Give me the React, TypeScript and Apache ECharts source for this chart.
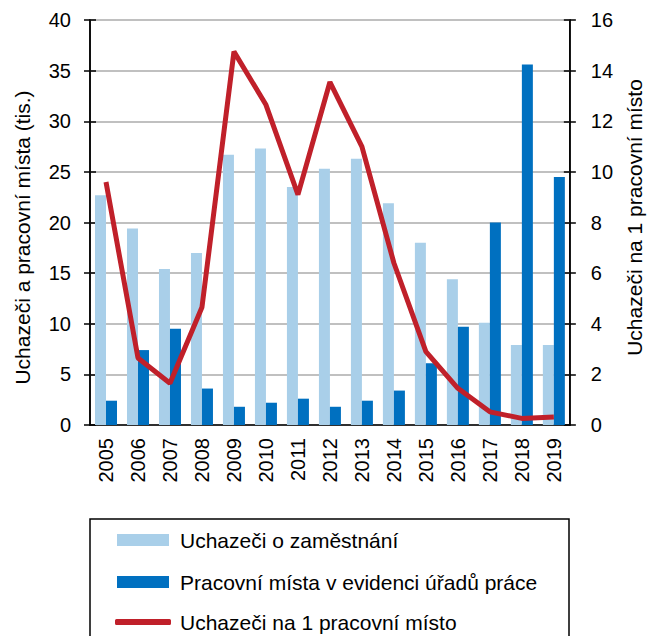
import React, { useEffect, useRef } from "react";
import * as echarts from "echarts";

const years = ["2005","2006","2007","2008","2009","2010","2011","2012","2013","2014","2015","2016","2017","2018","2019"];
const uchazeci = [22.7, 19.4, 15.4, 17.0, 26.7, 27.3, 23.5, 25.3, 26.3, 21.9, 18.0, 14.4, 10.1, 7.9, 7.9];
const mista = [2.4, 7.4, 9.5, 3.6, 1.8, 2.2, 2.6, 1.8, 2.4, 3.4, 6.1, 9.7, 20.0, 35.6, 24.5];
const naMisto = [9.6, 2.65, 1.65, 4.65, 14.75, 12.65, 9.1, 13.55, 11.0, 6.4, 2.9, 1.45, 0.52, 0.26, 0.32];
const leftTicks = { min: 0, max: 40, interval: 5 };
const rightTicks = { min: 0, max: 16, interval: 2 };
const names = ["Uchazeči o zaměstnání", "Pracovní místa v evidenci úřadů práce", "Uchazeči na 1 pracovní místo"];

const FONT = "'Liberation Sans', Arial, sans-serif";
const RED = "#c0202a";

export default function App() {
  const ref = useRef<HTMLDivElement>(null);
  useEffect(() => {
    if (!ref.current) return;
    const chart = echarts.init(ref.current, undefined, { renderer: "svg" });
    const legendText = { fontSize: 21, fontFamily: FONT, color: "#000", padding: [0, 0, 0, 6], lineHeight: 22 };
    const innerTickAxis = (position: string, t: { min: number; max: number; interval: number }) => ({
      type: "value",
      position,
      min: t.min,
      max: t.max,
      interval: t.interval,
      axisLine: { show: false },
      axisTick: { show: true, inside: true, length: 6, lineStyle: { color: "#000", width: 1.5 } },
      axisLabel: { show: false },
      splitLine: { show: false },
    });
    chart.setOption({
      animation: false,
      textStyle: { fontFamily: FONT, color: "#000" },
      grid: { left: 90, right: 71, top: 20, height: 405, show: true, borderColor: "#000", borderWidth: 1.5, backgroundColor: "transparent" },
      legend: [
        {
          left: 117, top: 529, padding: 0, itemWidth: 52, itemHeight: 12,
          data: [{ name: names[0], icon: "rect" }],
          textStyle: legendText,
        },
        {
          left: 117, top: 571, padding: 0, itemWidth: 52, itemHeight: 12,
          data: [{ name: names[1], icon: "rect" }],
          textStyle: legendText,
        },
        {
          left: 115, top: 611, padding: 0, itemWidth: 56, itemHeight: 6,
          data: [{ name: names[2], icon: "roundRect" }],
          itemStyle: { color: RED },
          textStyle: { ...legendText, padding: [0, 0, 0, 4] },
        },
      ],
      graphic: [
        { type: "rect", shape: { x: 90, y: 519, width: 479, height: 200 }, style: { fill: "none", stroke: "#000", lineWidth: 1.5 }, silent: true },
      ],
      xAxis: {
        type: "category",
        data: years,
        boundaryGap: true,
        axisLine: { lineStyle: { color: "#000", width: 1.5 } },
        axisTick: { interval: 0, length: 6, lineStyle: { color: "#000", width: 1.5 } },
        axisLabel: { rotate: 90, fontSize: 20, color: "#000", margin: 13, interval: 0, fontFamily: FONT },
      },
      yAxis: [
        {
          type: "value",
          position: "left",
          min: leftTicks.min,
          max: leftTicks.max,
          interval: leftTicks.interval,
          name: "Uchazeči a pracovní místa (tis.)",
          nameLocation: "middle",
          nameRotate: 90,
          nameGap: 57,
          nameTextStyle: { fontSize: 21, color: "#000", fontFamily: FONT, padding: [0, 30, 0, 0] },
          axisLine: { show: true, lineStyle: { color: "#000", width: 1.5 } },
          axisTick: { show: true, length: 6, lineStyle: { color: "#000", width: 1.5 } },
          axisLabel: { fontSize: 20, color: "#000", margin: 19, fontFamily: FONT },
          splitLine: { show: true, lineStyle: { color: "#c0c0c0", width: 2 } },
        },
        {
          type: "value",
          position: "right",
          min: rightTicks.min,
          max: rightTicks.max,
          interval: rightTicks.interval,
          name: "Uchazeči na 1 pracovní místo",
          nameLocation: "middle",
          nameRotate: 90,
          nameGap: 50,
          nameTextStyle: { fontSize: 21, color: "#000", fontFamily: FONT, padding: [0, 0, 0, 10] },
          axisLine: { show: true, lineStyle: { color: "#000", width: 1.5 } },
          axisTick: { show: true, length: 6, lineStyle: { color: "#000", width: 1.5 } },
          axisLabel: { fontSize: 20, color: "#000", margin: 21, fontFamily: FONT },
          splitLine: { show: false },
        },
        innerTickAxis("left", leftTicks),
        innerTickAxis("right", rightTicks),
      ],
      series: [
        {
          name: names[0],
          type: "bar",
          yAxisIndex: 0,
          data: uchazeci,
          barWidth: 11,
          barGap: "0%",
          itemStyle: { color: "#a9cfe9" },
        },
        {
          name: names[1],
          type: "bar",
          yAxisIndex: 0,
          data: mista,
          barWidth: 11,
          barGap: "0%",
          itemStyle: { color: "#0070c0" },
        },
        {
          name: names[2],
          type: "line",
          yAxisIndex: 1,
          data: naMisto,
          symbol: "none",
          lineStyle: { color: RED, width: 5 },
          itemStyle: { color: RED },
        },
      ],
    });
    return () => chart.dispose();
  }, []);
  return <div ref={ref} style={{ width: 653, height: 636, position: "absolute", left: 0, top: 0 }} />;
}
